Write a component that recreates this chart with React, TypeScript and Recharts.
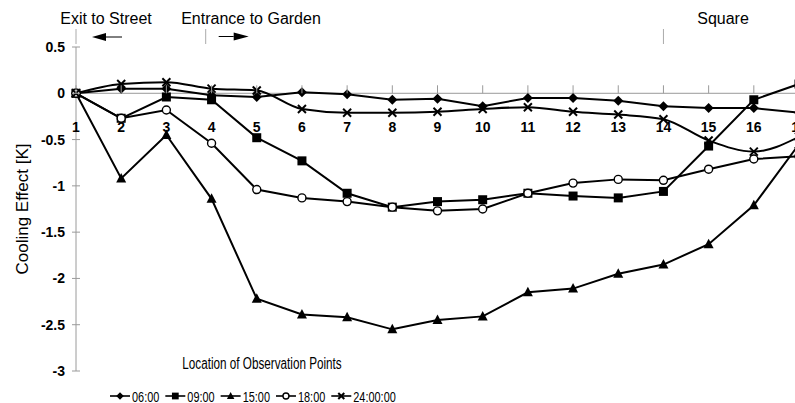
import React from "react";
import { LineChart, Line, XAxis, YAxis, ReferenceLine, Legend } from "recharts";

// ---- data ----
const POINTS = [1, 2, 3, 4, 5, 6, 7, 8, 9, 10, 11, 12, 13, 14, 15, 16, 17];
const S_0600 = [0, 0.05, 0.05, -0.02, -0.04, 0.01, -0.01, -0.07, -0.06, -0.14, -0.05, -0.05, -0.08, -0.14, -0.16, -0.16, -0.21];
const S_0900 = [0, -0.27, -0.04, -0.07, -0.48, -0.73, -1.08, -1.23, -1.17, -1.15, -1.08, -1.11, -1.13, -1.06, -0.57, -0.07, 0.1];
const S_1500 = [0, -0.92, -0.45, -1.14, -2.22, -2.39, -2.42, -2.55, -2.45, -2.41, -2.15, -2.11, -1.95, -1.85, -1.63, -1.21, -0.55];
const S_1800 = [0, -0.27, -0.18, -0.54, -1.04, -1.13, -1.17, -1.23, -1.27, -1.25, -1.08, -0.97, -0.93, -0.94, -0.82, -0.71, -0.68];
const S_2400 = [0, 0.1, 0.12, 0.05, 0.03, -0.17, -0.21, -0.21, -0.2, -0.17, -0.15, -0.2, -0.23, -0.28, -0.51, -0.63, -0.47];
const Y_TICKS = [-3, -2.5, -2, -1.5, -1, -0.5, 0, 0.5];
const SERIES = [
  { key: "s0600", name: "06:00", values: S_0600, shape: "diamond" },
  { key: "s0900", name: "09:00", values: S_0900, shape: "square" },
  { key: "s1500", name: "15:00", values: S_1500, shape: "triangle" },
  { key: "s1800", name: "18:00", values: S_1800, shape: "circle" },
  { key: "s2400", name: "24:00:00", values: S_2400, shape: "cross" },
];
const ANNOTATIONS = [
  { text: "Exit to Street", at: 1, textX: 106, dir: -1 },
  { text: "Entrance to Garden", at: 3.87, textX: 251, dir: 1 },
  { text: "Square", at: 14, textX: 723, dir: 0 },
];
const X_TITLE = "Location of Observation Points";
const Y_TITLE = "Cooling Effect [K]";

const data = POINTS.map((p, i) => {
  const row: any = { pt: p };
  SERIES.forEach((s) => (row[s.key] = s.values[i]));
  return row;
});

// ---- layout ----
const CHART_W = 820;
const CHART_H = 403;
const LEFT = 76;
const TOP = 47;
const RIGHT_M = 21;
const LEGEND_H = 14;
const XAXIS_H = 18;
const PLOT_BOTTOM = CHART_H - LEGEND_H - XAXIS_H;
const Y_MIN = -3;
const Y_MAX = 0.5;
const PLOT_W = CHART_W - RIGHT_M - LEFT;
const xOf = (c: number) => LEFT + ((c - 1) / 16) * PLOT_W;
const yOf = (v: number) => TOP + ((Y_MAX - v) / (Y_MAX - Y_MIN)) * (PLOT_BOTTOM - TOP);

const SANS = "'Liberation Sans', Arial, sans-serif";
const GRAY = "#9a9a9a";
const NARROW_RATIO = 0.78;

// approximate Arial advance widths (em) for condensed text via textLength
const emWidth = (t: string) =>
  t.split("").reduce((acc, ch) => {
    if (/[0-9]/.test(ch)) return acc + 0.556;
    if (ch === ":" || ch === " " || ch === "." || ch === "t" || ch === "f") return acc + 0.278;
    if (ch === "i" || ch === "l") return acc + 0.222;
    if (ch === "r") return acc + 0.333;
    if (ch === "c" || ch === "s" || ch === "v") return acc + 0.5;
    if (ch === "O") return acc + 0.778;
    if (ch === "P") return acc + 0.667;
    return acc + 0.556;
  }, 0);

function Marker({ shape, cx, cy, s = 1 }: { shape: string; cx: number; cy: number; s?: number }) {
  if (shape === "diamond")
    return <polygon points={`${cx},${cy - 5 * s} ${cx + 5 * s},${cy} ${cx},${cy + 5 * s} ${cx - 5 * s},${cy}`} fill="#000" />;
  if (shape === "square")
    return <rect x={cx - 4.5 * s} y={cy - 4.5 * s} width={9 * s} height={9 * s} fill="#000" />;
  if (shape === "triangle")
    return <polygon points={`${cx},${cy - 5.5 * s} ${cx + 5 * s},${cy + 4 * s} ${cx - 5 * s},${cy + 4 * s}`} fill="#000" />;
  if (shape === "circle")
    return <circle cx={cx} cy={cy} r={4 * s} fill="#fff" stroke="#000" strokeWidth={1.4} />;
  return (
    <g stroke="#000" strokeWidth={2}>
      <line x1={cx - 4 * s} y1={cy - 4 * s} x2={cx + 4 * s} y2={cy + 4 * s} />
      <line x1={cx - 4 * s} y1={cy + 4 * s} x2={cx + 4 * s} y2={cy - 4 * s} />
    </g>
  );
}

const makeDot = (shape: string) => (props: any) => {
  const { cx, cy, index } = props;
  if (cx == null || cy == null) return <g key={`d-${shape}-${index}`} />;
  return (
    <g key={`d-${shape}-${index}`}>
      <Marker shape={shape} cx={cx} cy={cy} />
    </g>
  );
};

const XTick = (props: any) => {
  const { x, payload } = props;
  const zy = yOf(0);
  return (
    <g>
      <line x1={x} x2={x} y1={zy - 8} y2={zy} stroke={GRAY} strokeWidth={1} />
      <text x={x} y={zy + 34} textAnchor="middle" dominantBaseline="central" fontFamily={SANS} fontWeight="bold" fontSize={14} fill="#000">
        {payload.value}
      </text>
    </g>
  );
};

const YTick = (props: any) => {
  const { y, payload } = props;
  return (
    <g>
      <line x1={LEFT - 4} x2={LEFT + 4} y1={y} y2={y} stroke={GRAY} strokeWidth={1} />
      <text x={LEFT - 11} y={y} textAnchor="end" dominantBaseline="central" fontFamily={SANS} fontWeight="bold" fontSize={14} fill="#000">
        {String(payload.value)}
      </text>
    </g>
  );
};

const LEG_FS = 15;
const renderLegend = (props: any) => {
  const { payload } = props;
  let cursor = 0;
  const items = (payload || []).map((entry: any) => {
    const s = SERIES.find((q) => q.key === entry.dataKey) || SERIES[0];
    const tl = emWidth(s.name) * 14 * NARROW_RATIO;
    const x0 = cursor;
    cursor += 20 + 2 + tl + 6;
    return (
      <g key={s.key} transform={`translate(${x0},0)`}>
        <line x1={0} x2={20} y1={7} y2={7} stroke="#000" strokeWidth={1.6} />
        <Marker shape={s.shape} cx={10} cy={7} s={0.75} />
        <text x={22} y={12.5} fontFamily={SANS} fontSize={LEG_FS} fill="#000" textLength={tl} lengthAdjust="spacingAndGlyphs">
          {s.name}
        </text>
      </g>
    );
  });
  return (
    <svg width={Math.ceil(cursor) + 4} height={LEGEND_H} style={{ display: "block", overflow: "visible" }}>
      {items}
    </svg>
  );
};

const Decorations = () => (
  <g>
    {ANNOTATIONS.map((a) => {
      const mx = xOf(a.at);
      return (
        <g key={a.text}>
          <text x={a.textX} y={24} textAnchor="middle" fontFamily={SANS} fontSize={16} fill="#000">
            {a.text}
          </text>
          <line x1={mx} x2={mx} y1={29} y2={44} stroke="#aaa" strokeWidth={1} />
          {a.dir === -1 && (
            <g>
              <polygon points={`${mx + 16},37 ${mx + 30},33 ${mx + 30},41`} fill="#000" />
              <line x1={mx + 30} x2={mx + 46} y1={37} y2={37} stroke="#000" strokeWidth={1} />
            </g>
          )}
          {a.dir === 1 && (
            <g>
              <line x1={mx + 13} x2={mx + 28} y1={36.5} y2={36.5} stroke="#000" strokeWidth={1} />
              <polygon points={`${mx + 28},32.5 ${mx + 43},36.5 ${mx + 28},40.5`} fill="#000" />
            </g>
          )}
        </g>
      );
    })}
    <text
      x={262}
      y={369}
      textAnchor="middle"
      fontFamily={SANS}
      fontSize={16}
      fill="#000"
      textLength={emWidth(X_TITLE) * 15 * NARROW_RATIO}
      lengthAdjust="spacingAndGlyphs"
    >
      {X_TITLE}
    </text>
    <text transform={`translate(28, ${(TOP + PLOT_BOTTOM) / 2}) rotate(-90)`} textAnchor="middle" fontFamily={SANS} fontSize={17} fill="#000">
      {Y_TITLE}
    </text>
  </g>
);

export default function App() {
  return (
    <div style={{ position: "absolute", left: 0, top: 0, width: 795, height: 403, overflow: "hidden", background: "#fff" }}>
      <LineChart width={CHART_W} height={CHART_H} data={data} margin={{ top: TOP, right: RIGHT_M, left: 0, bottom: 0 }}>
        <XAxis
          dataKey="pt"
          type="number"
          domain={[1, 17]}
          ticks={POINTS}
          interval={0}
          height={XAXIS_H}
          axisLine={false}
          tickLine={false}
          tick={<XTick />}
        />
        <YAxis
          type="number"
          domain={[Y_MIN, Y_MAX]}
          ticks={Y_TICKS}
          interval={0}
          width={LEFT}
          axisLine={{ stroke: GRAY, strokeWidth: 1 }}
          tickLine={false}
          tick={<YTick />}
        />
        <ReferenceLine y={0} stroke={GRAY} strokeWidth={1} />
        {SERIES.map((s) => (
          <Line
            key={s.key}
            dataKey={s.key}
            name={s.name}
            type={s.shape === "cross" ? "monotone" : "linear"}
            stroke="#000"
            strokeWidth={2}
            dot={makeDot(s.shape)}
            activeDot={false}
            isAnimationActive={false}
          />
        ))}
        <Legend verticalAlign="bottom" align="left" height={LEGEND_H} wrapperStyle={{ left: 110, bottom: 0 }} content={renderLegend} />
        <Decorations />
      </LineChart>
    </div>
  );
}
